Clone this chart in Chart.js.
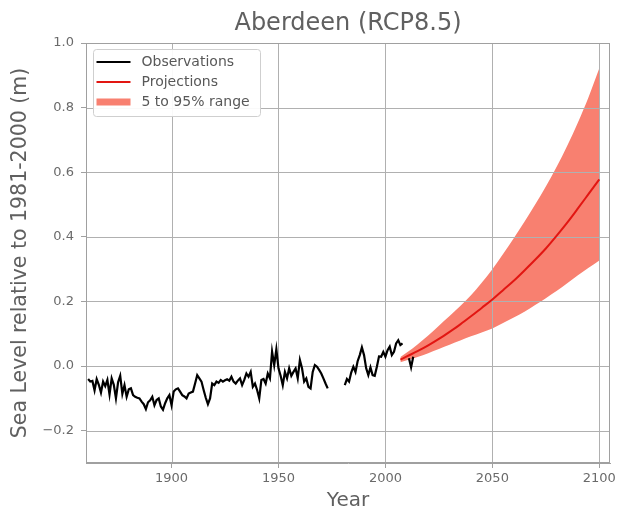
<!DOCTYPE html>
<html>
<head>
<meta charset="utf-8">
<script src="https://cdn.jsdelivr.net/npm/chart.js@4.4.1/dist/chart.umd.min.js"></script>
<style>
  html, body { margin: 0; padding: 0; background: #ffffff; }
  #wrap { width: 617px; height: 508px; }
</style>
</head>
<body>
<div id="wrap"><canvas id="chart" width="617" height="508"></canvas></div>
<script>
// Annual tide-gauge record (m, relative to the 1981-2000 mean); null = missing year
const obsStartYear = 1861;
const obsLevels = [
  -0.040, -0.048, -0.046, -0.075, -0.040, -0.058, -0.082, -0.048, -0.062, -0.043, // 1861-1870
  -0.088, -0.038, -0.058, -0.100, -0.050, -0.030, -0.086, -0.059, -0.095, -0.072, // 1871-1880
  -0.069, -0.090, -0.095, -0.098, -0.100, -0.110, -0.118, -0.133, -0.112, -0.106, // 1881-1890
  -0.095, -0.121, -0.105, -0.100, -0.125, -0.135, -0.115, -0.100, -0.090, -0.121, // 1891-1900
  -0.079, -0.072, -0.069, -0.079, -0.090, -0.094, -0.100, -0.085, -0.082, -0.079, // 1901-1910
  -0.054, -0.028, -0.038, -0.048, -0.074, -0.098, -0.118, -0.100, -0.054, -0.059, // 1911-1920
  -0.048, -0.052, -0.043, -0.048, -0.044, -0.041, -0.045, -0.033, -0.048, -0.054, // 1921-1930
  -0.045, -0.038, -0.059, -0.043, -0.023, -0.033, -0.018, -0.064, -0.054, -0.074, // 1931-1940
  -0.100, -0.043, -0.040, -0.054, -0.023, -0.038,  0.045,  0.003,  0.052, -0.007, // 1941-1950
  -0.030, -0.059, -0.018, -0.038, -0.007, -0.030, -0.018, -0.007, -0.038,  0.019, // 1951-1960
  -0.007, -0.048, -0.038, -0.064, -0.069, -0.018,  0.003, -0.002, -0.012, -0.023, // 1961-1970
  -0.038, -0.054, -0.069,   null,   null,   null,   null,   null,   null,   null, // 1971-1980
  -0.059, -0.040, -0.048, -0.020, -0.002, -0.018,  0.015,  0.034,  0.058,  0.034, // 1981-1990
  -0.007, -0.028, -0.004, -0.028, -0.030, -0.002,  0.030,  0.029,  0.044,  0.029, // 1991-2000
   0.049,  0.060,  0.034,  0.044,  0.070,  0.080,  0.065,  0.070,   null,   null, // 2001-2010
   0.024, -0.004,  0.029                                                          // 2011-2013
];

// RCP8.5 projection: median and 5th / 95th percentiles (m)
const projYears  = [2007, 2010, 2015, 2020, 2025, 2030, 2035, 2040, 2045, 2050,
                    2055, 2060, 2065, 2070, 2075, 2080, 2085, 2090, 2095, 2100];
const projMedian = [0.020, 0.030, 0.046, 0.064, 0.084, 0.106, 0.129, 0.154, 0.180, 0.206,
                    0.235, 0.264, 0.296, 0.329, 0.364, 0.403, 0.444, 0.488, 0.533, 0.578];
const projLower  = [0.012, 0.018, 0.028, 0.040, 0.053, 0.066, 0.079, 0.092, 0.104, 0.116,
                    0.133, 0.150, 0.168, 0.189, 0.210, 0.232, 0.256, 0.281, 0.304, 0.327];
const projUpper  = [0.028, 0.042, 0.067, 0.095, 0.125, 0.155, 0.186, 0.219, 0.258, 0.300,
                    0.347, 0.396, 0.447, 0.500, 0.556, 0.616, 0.682, 0.754, 0.833, 0.922];

const xTicks = [1900, 1950, 2000, 2050, 2100];
const yTicks = [-0.2, 0.0, 0.2, 0.4, 0.6, 0.8, 1.0];

const FONT = "'DejaVu Sans', 'Liberation Sans', sans-serif";
const TEXT = '#606060';
const TICK_TEXT = '#6a6a6a';
const GRID = '#b0b0b0';
const FRAME = '#a0a0a0';
const OBS_COLOR = '#000000';
const PROJ_COLOR = 'rgb(226, 22, 18)';
const BAND_COLOR = 'rgb(248, 128, 112)';

const obsPoints = obsLevels.map((v, i) => ({ x: obsStartYear + i, y: v }));
const toPoints = arr => projYears.map((yr, i) => ({ x: yr, y: arr[i] }));

// Gridlines sit above the shaded band but beneath the lines
const gridPlugin = {
  id: 'midGrid',
  afterDatasetDraw(chart, args) {
    if (args.index !== 2) return;
    const { ctx, chartArea: a, scales } = chart;
    ctx.save();
    ctx.strokeStyle = GRID;
    ctx.lineWidth = 1;
    ctx.beginPath();
    xTicks.forEach(v => {
      const px = Math.round(scales.x.getPixelForValue(v)) + 0.5;
      ctx.moveTo(px, a.top); ctx.lineTo(px, a.bottom);
    });
    yTicks.forEach(v => {
      const py = Math.round(scales.y.getPixelForValue(v)) + 0.5;
      ctx.moveTo(a.left, py); ctx.lineTo(a.right, py);
    });
    ctx.stroke();
    ctx.restore();
  }
};

// Full rectangular frame around the plotting area
const framePlugin = {
  id: 'frame',
  afterDatasetsDraw(chart) {
    const { ctx, chartArea: a } = chart;
    ctx.save();
    ctx.strokeStyle = FRAME;
    ctx.lineWidth = 1;
    ctx.strokeRect(Math.round(a.left) + 0.5, Math.round(a.top) + 0.5,
                   Math.round(a.right - a.left) - 1, Math.round(a.bottom - a.top) - 1);
    ctx.restore();
  }
};

// Boxed legend in the upper-left corner of the plotting area
const legendPlugin = {
  id: 'boxLegend',
  afterDraw(chart) {
    const { ctx, chartArea: a } = chart;
    const x0 = Math.round(a.left) + 7.5, y0 = Math.round(a.top) + 6.5;
    const w = 167, h = 67;
    ctx.save();
    ctx.beginPath();
    ctx.roundRect(x0, y0, w, h, 3);
    ctx.fillStyle = 'rgba(255,255,255,0.92)';
    ctx.fill();
    ctx.strokeStyle = '#cfcfcf';
    ctx.lineWidth = 1;
    ctx.stroke();
    const items = chart.data.datasets.filter(d => !d.label.startsWith('_'));
    ctx.font = '14px ' + FONT;
    ctx.textBaseline = 'middle';
    ctx.textAlign = 'left';
    items.forEach((d, i) => {
      const ry = y0 + 12.5 + i * 20;
      const sx = x0 + 3, ex = x0 + 37;
      if (d.fill) {
        ctx.fillStyle = d.backgroundColor;
        ctx.fillRect(sx, ry - 3.5, ex - sx, 7);
      } else {
        ctx.strokeStyle = d.borderColor;
        ctx.lineWidth = 2.2;
        ctx.beginPath();
        ctx.moveTo(sx, ry); ctx.lineTo(ex, ry);
        ctx.stroke();
      }
      ctx.fillStyle = '#585858';
      ctx.fillText(d.label, x0 + 48, ry + 0.5);
    });
    ctx.restore();
  }
};

const minusFmt = v => (v < 0 ? '\u2212' : '') + Math.abs(v).toFixed(1);

new Chart(document.getElementById('chart').getContext('2d'), {
  type: 'line',
  data: {
    datasets: [
      {
        label: 'Observations', data: obsPoints,
        borderColor: OBS_COLOR, borderWidth: 2.2, pointRadius: 0,
        fill: false, spanGaps: false, tension: 0
      },
      {
        label: 'Projections', data: toPoints(projMedian),
        borderColor: PROJ_COLOR, borderWidth: 2, pointRadius: 0,
        fill: false, cubicInterpolationMode: 'monotone'
      },
      {
        label: '5 to 95% range', data: toPoints(projUpper),
        borderColor: 'rgba(0,0,0,0)', borderWidth: 0, backgroundColor: BAND_COLOR,
        pointRadius: 0, fill: '+1', cubicInterpolationMode: 'monotone'
      },
      {
        label: '_lower', data: toPoints(projLower),
        borderColor: 'rgba(0,0,0,0)', borderWidth: 0, pointRadius: 0,
        fill: false, cubicInterpolationMode: 'monotone'
      }
    ]
  },
  options: {
    responsive: false,
    animation: false,
    devicePixelRatio: 1,
    layout: { padding: { left: 0, right: 7, top: 0, bottom: 0 } },
    plugins: {
      legend: { display: false },
      tooltip: { enabled: false },
      title: {
        display: true,
        fullSize: false,
        text: 'Aberdeen (RCP8.5)',
        color: TEXT,
        font: { family: FONT, size: 24, weight: 'normal', lineHeight: 1.2 },
        padding: { top: 9, bottom: 5.2 }
      }
    },
    scales: {
      x: {
        type: 'linear',
        min: 1860, max: 2105,
        afterBuildTicks: s => { s.ticks = xTicks.map(v => ({ value: v })); },
        afterFit: s => { s.height = 45; s.paddingLeft = 0; s.paddingRight = 0; },
        grid: { drawOnChartArea: false, drawTicks: true, tickLength: 5, tickColor: FRAME, color: GRID },
        border: { display: true, color: FRAME },
        ticks: {
          font: { family: FONT, size: 13 }, color: TICK_TEXT, padding: 3,
          maxRotation: 0, autoSkip: false, callback: v => String(v)
        },
        title: {
          display: true, text: 'Year', color: TEXT,
          font: { family: FONT, size: 20, lineHeight: '14px' },
          padding: { top: 0, bottom: 0 }
        }
      },
      y: {
        type: 'linear',
        min: -0.3, max: 1.0,
        afterBuildTicks: s => { s.ticks = yTicks.map(v => ({ value: v })); },
        afterFit: s => { s.width = 86; s.paddingTop = 0; s.paddingBottom = 0; },
        grid: { drawOnChartArea: false, drawTicks: true, tickLength: 5, tickColor: FRAME, color: GRID },
        border: { display: true, color: FRAME },
        ticks: {
          font: { family: FONT, size: 13 }, color: TICK_TEXT, padding: 7,
          autoSkip: false, callback: v => minusFmt(v)
        },
        title: {
          display: true, text: 'Sea Level relative to 1981-2000 (m)', color: TEXT,
          font: { family: FONT, size: 20.5, lineHeight: 1.2 },
          padding: { top: 8, bottom: 0 }
        }
      }
    }
  },
  plugins: [gridPlugin, framePlugin, legendPlugin]
});
</script>
</body>
</html>
